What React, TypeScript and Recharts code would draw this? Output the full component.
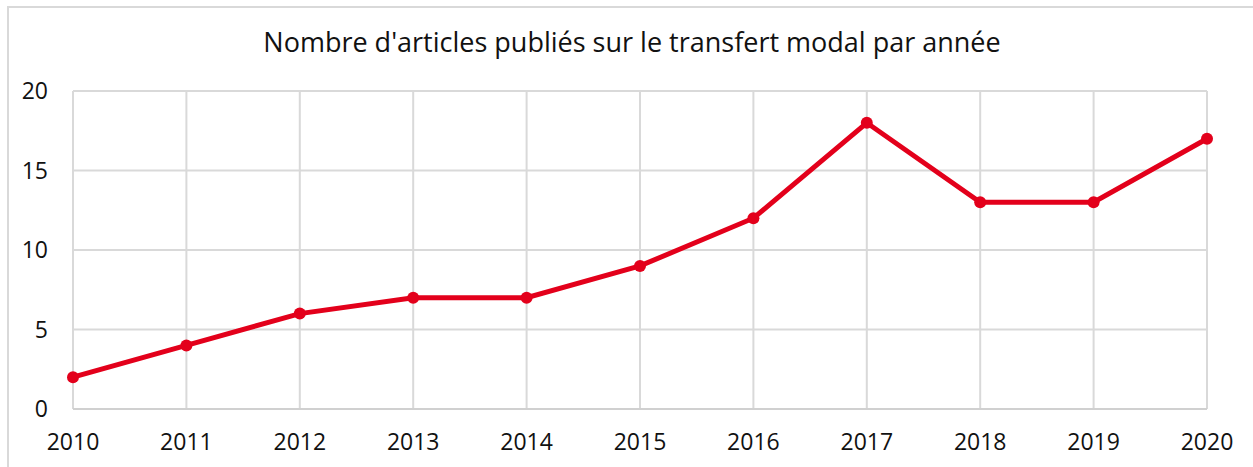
import { CartesianGrid, Line, LineChart, XAxis, YAxis } from "recharts";

const years = ["2010", "2011", "2012", "2013", "2014", "2015", "2016", "2017", "2018", "2019", "2020"];
const articles = [2, 4, 6, 7, 7, 9, 12, 18, 13, 13, 17];
const yTicks = [0, 5, 10, 15, 20];

const data = years.map((year, i) => ({ year, articles: articles[i] }));

const FONT = "'Open Sans', sans-serif";
const RED = "#e3001b";

export default function App() {
	return (
		<div
			style={{
				position: "absolute",
				left: 0,
				top: 0,
				width: 1253,
				height: 467,
				overflow: "hidden",
				background: "#fff",
				fontFamily: FONT,
			}}
		>
			<div
				style={{
					position: "absolute",
					left: 7,
					top: 6,
					width: 1260,
					height: 480,
					border: "2px solid #d9d9d9",
					boxSizing: "border-box",
				}}
			/>
			<div
				style={{
					position: "absolute",
					left: 0,
					top: 23,
					width: 1264,
					textAlign: "center",
					fontSize: 27,
					color: "#111",
				}}
			>
				Nombre d'articles publiés sur le transfert modal par année
			</div>
			<div style={{ position: "absolute", left: 0, top: 0 }}>
				<LineChart
					width={1253}
					height={467}
					data={data}
					margin={{ top: 91, right: 46, bottom: 0, left: 0 }}
				>
					<CartesianGrid stroke="#d9d9d9" strokeWidth={2} />
					<XAxis
						dataKey="year"
						height={58}
						axisLine={{ stroke: "#d0d0d0", strokeWidth: 2 }}
						tickLine={false}
						tickSize={0}
						tickMargin={25}
						interval={0}
						tick={{ fill: "#111", fontSize: 23, fontFamily: FONT }}
					/>
					<YAxis
						width={73}
						domain={[0, 20]}
						ticks={yTicks}
						axisLine={false}
						tickLine={false}
						tickSize={0}
						tickMargin={25}
						tick={{ fill: "#111", fontSize: 23, fontFamily: FONT }}
					/>
					<Line
						type="linear"
						dataKey="articles"
						stroke={RED}
						strokeWidth={5}
						dot={{ r: 6, fill: RED, stroke: RED, strokeWidth: 0 }}
						isAnimationActive={false}
					/>
				</LineChart>
			</div>
		</div>
	);
}
